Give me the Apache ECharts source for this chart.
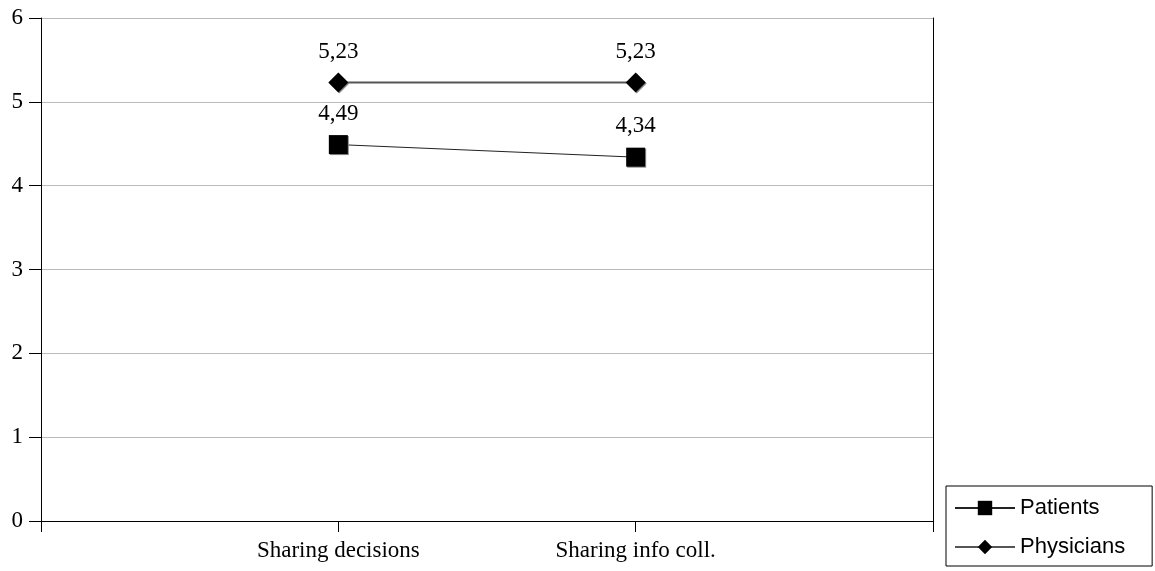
<!DOCTYPE html>
<html><head><meta charset="utf-8">
<script src="https://cdn.jsdelivr.net/npm/echarts@6/dist/echarts.min.js"></script>
<style>html,body{margin:0;padding:0;background:#fff}#c{width:1155px;height:571px}</style>
</head><body><div id="c"></div>
<script>
const categories = ['', 'Sharing decisions', 'Sharing info coll.', ''];
const patients = [null, 4.49, 4.34, null];
const physicians = [null, 5.23, 5.23, null];
const yTicks = [0, 1, 2, 3, 4, 5, 6];

const serif = '"Liberation Serif", "Times New Roman", serif';
const fmt = p => String(p.value).replace('.', ',');
const chart = echarts.init(document.getElementById('c'));
chart.setOption({
  animation: false,
  backgroundColor: '#fff',
  grid: { left: 41, right: 222, top: 18, bottom: 50 },
  xAxis: {
    type: 'category', data: categories, boundaryGap: false,
    axisLine: { lineStyle: { color: '#000', width: 1 } },
    axisTick: { show: true, length: 11, lineStyle: { color: '#000' } },
    axisLabel: { color: '#000', fontFamily: serif, fontSize: 23, margin: 18 },
    splitLine: { show: false }
  },
  yAxis: [{
    type: 'value', min: yTicks[0], max: yTicks[yTicks.length - 1], interval: 1,
    axisLine: { show: true, lineStyle: { color: '#000' } },
    axisTick: { show: true, length: 12, lineStyle: { color: '#000' } },
    axisLabel: { color: '#000', fontFamily: serif, fontSize: 23, margin: 18 },
    splitLine: { show: true, lineStyle: { color: '#bbb', width: 1 } }
  }, {
    type: 'value', min: 0, max: 6, interval: 1, position: 'right',
    axisLine: { show: true, lineStyle: { color: '#000' } },
    axisTick: { show: false }, axisLabel: { show: false }, splitLine: { show: false }
  }],
  legend: {
    orient: 'vertical', left: 946, top: 486,
    borderColor: '#000', borderWidth: 1, borderRadius: 0,
    padding: [11, 27, 8, 8], itemGap: 17, itemWidth: 60, itemHeight: 18,
    textStyle: { color: '#000', fontFamily: '"Liberation Sans", Arial, sans-serif', fontSize: 22 },
    data: ['Patients', 'Physicians']
  },
  series: [{
    name: 'Patients', type: 'line', data: patients,
    symbol: 'rect', symbolSize: 19,
    lineStyle: { color: '#222', width: 1 },
    itemStyle: { color: '#000', shadowColor: '#888', shadowOffsetX: 1, shadowOffsetY: 1 },
    label: { show: true, position: 'top', distance: 10, color: '#000', fontFamily: serif, fontSize: 23, formatter: fmt }
  }, {
    name: 'Physicians', type: 'line', data: physicians,
    symbol: 'diamond', symbolSize: 20,
    lineStyle: { color: '#555', width: 2 },
    itemStyle: { color: '#000', shadowColor: '#888', shadowOffsetX: 1, shadowOffsetY: 1 },
    label: { show: true, position: 'top', distance: 9, color: '#000', fontFamily: serif, fontSize: 23, formatter: fmt }
  }]
});
</script></body></html>
